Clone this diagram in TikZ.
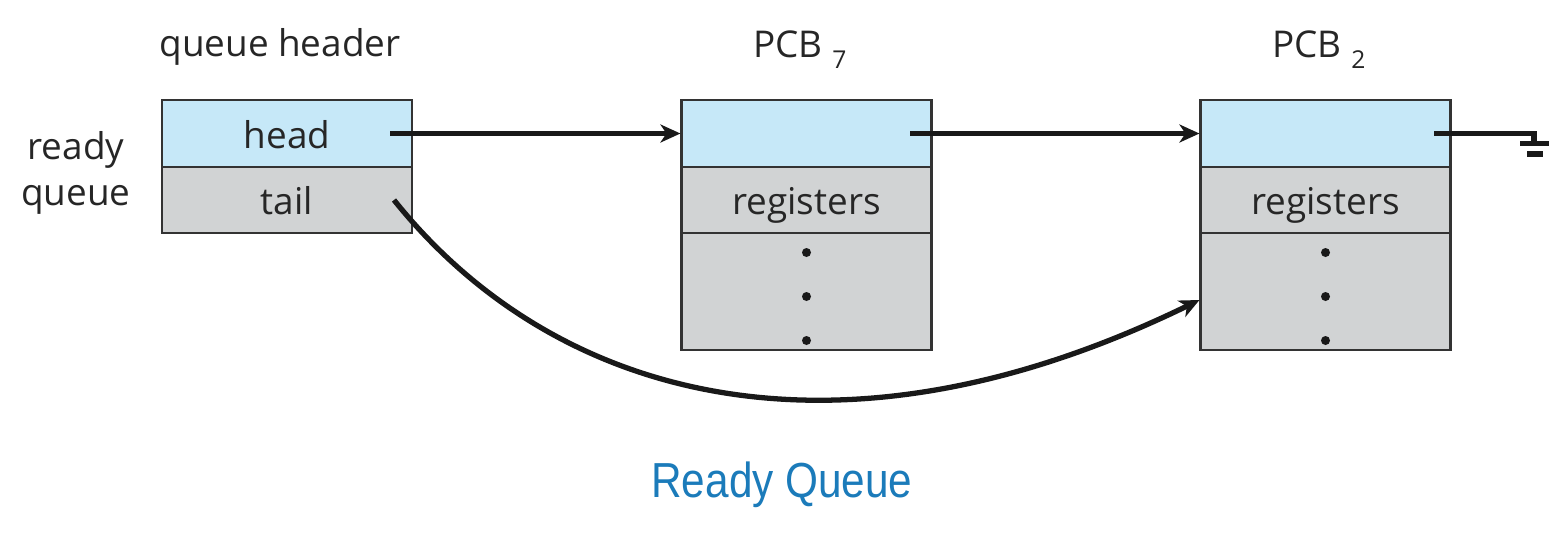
\documentclass[tikz,border=0pt]{standalone}
\usepackage{fontspec}
\setmainfont{Open Sans}
\newfontfamily\titlefont{Liberation Sans}
\usetikzlibrary{arrows.meta}
\definecolor{cellblue}{HTML}{C6E8F8}
\definecolor{cellgray}{HTML}{D1D3D4}
\definecolor{titleblue}{HTML}{1B7BBA}
\tikzset{
  cell/.style={draw=black!80, line width=1.2pt, minimum width=5cm, minimum height=1.33cm, inner sep=0pt, text height=21pt, text depth=4.2pt, text=black!85, font=\fontsize{21}{25}\selectfont},
  headcell/.style={cell, fill=cellblue},
  bodycell/.style={cell, fill=cellgray},
  dotcell/.style={bodycell, minimum height=2.34cm},
  label/.style={text=black!85, font=\fontsize{21}{26}\selectfont},
  link/.style={line width=3pt, black!90, -{Stealth[length=4mm,width=3.6mm,inset=1.2mm]}},
  wire/.style={line width=3pt, black!90}
}
\newcommand{\pcbsub}[1]{{\fontsize{14}{14}\selectfont\raisebox{-0.45em}{#1}}}
\begin{document}
\begin{tikzpicture}
    %%%%% START %%%%%
    \useasboundingbox (0,0) rectangle (31.32,-10.64);

    % queue header
    \node[label] (qhlabel) at (5.6,-0.94) {queue header};
    \node[headcell] (qhead) at (5.74,-2.67) {head};
    \node[bodycell] (qtail) at (5.74,-4.0) {tail};
    \node[label, align=center] (rqlabel) at (1.52,-3.46) {ready\\queue};

    % PCB 7
    \node[label] (p7label) at (16.0,-1.0) {PCB \pcbsub{7}};
    \node[headcell] (p7head) at (16.13,-2.67) {};
    \node[bodycell] (p7reg) at (16.13,-4.0) {registers};
    \node[dotcell] (p7dots) at (16.13,-5.83) {};

    % PCB 2
    \node[label] (p2label) at (26.38,-1.0) {PCB \pcbsub{2}};
    \node[headcell] (p2head) at (26.51,-2.67) {};
    \node[bodycell] (p2reg) at (26.51,-4.0) {registers};
    \node[dotcell] (p2dots) at (26.51,-5.83) {};

    \foreach \px in {p7dots,p2dots}{
      \foreach \dy in {0.78,-0.1,-0.98}
        \fill[black!90] ([yshift=\dy cm]\px.center) circle (0.09);
    }

    % pointers
    \coordinate (hstart) at (7.8,-2.67);
    \coordinate (p7start) at (18.2,-2.67);
    \coordinate (p2start) at (28.68,-2.67);
    \coordinate (gnd) at (30.68,-2.67);
    \coordinate (tstart) at (7.88,-4.0);

    \draw[link] (hstart) -- (p7head.west);
    \draw[link] (p7start) -- (p2head.west);
    \draw[wire] (p2start) -- (gnd) -- ++(0,-0.2);
    \draw[wire] (30.4,-2.87) -- (30.98,-2.87);
    \draw[wire] (30.54,-3.08) -- (30.86,-3.08);

    \draw[link] (tstart) .. controls (11.0,-7.9) and (16.6,-9.6) .. ([yshift=-0.17cm]p2dots.west);

    % title
    \node[text=titleblue, font=\titlefont\fontsize{28}{32}\selectfont] (title) at (15.64,-9.7) {\scalebox{0.86}[1]{Ready Queue}};
    %%%%% END %%%%%
\end{tikzpicture}
\end{document}
